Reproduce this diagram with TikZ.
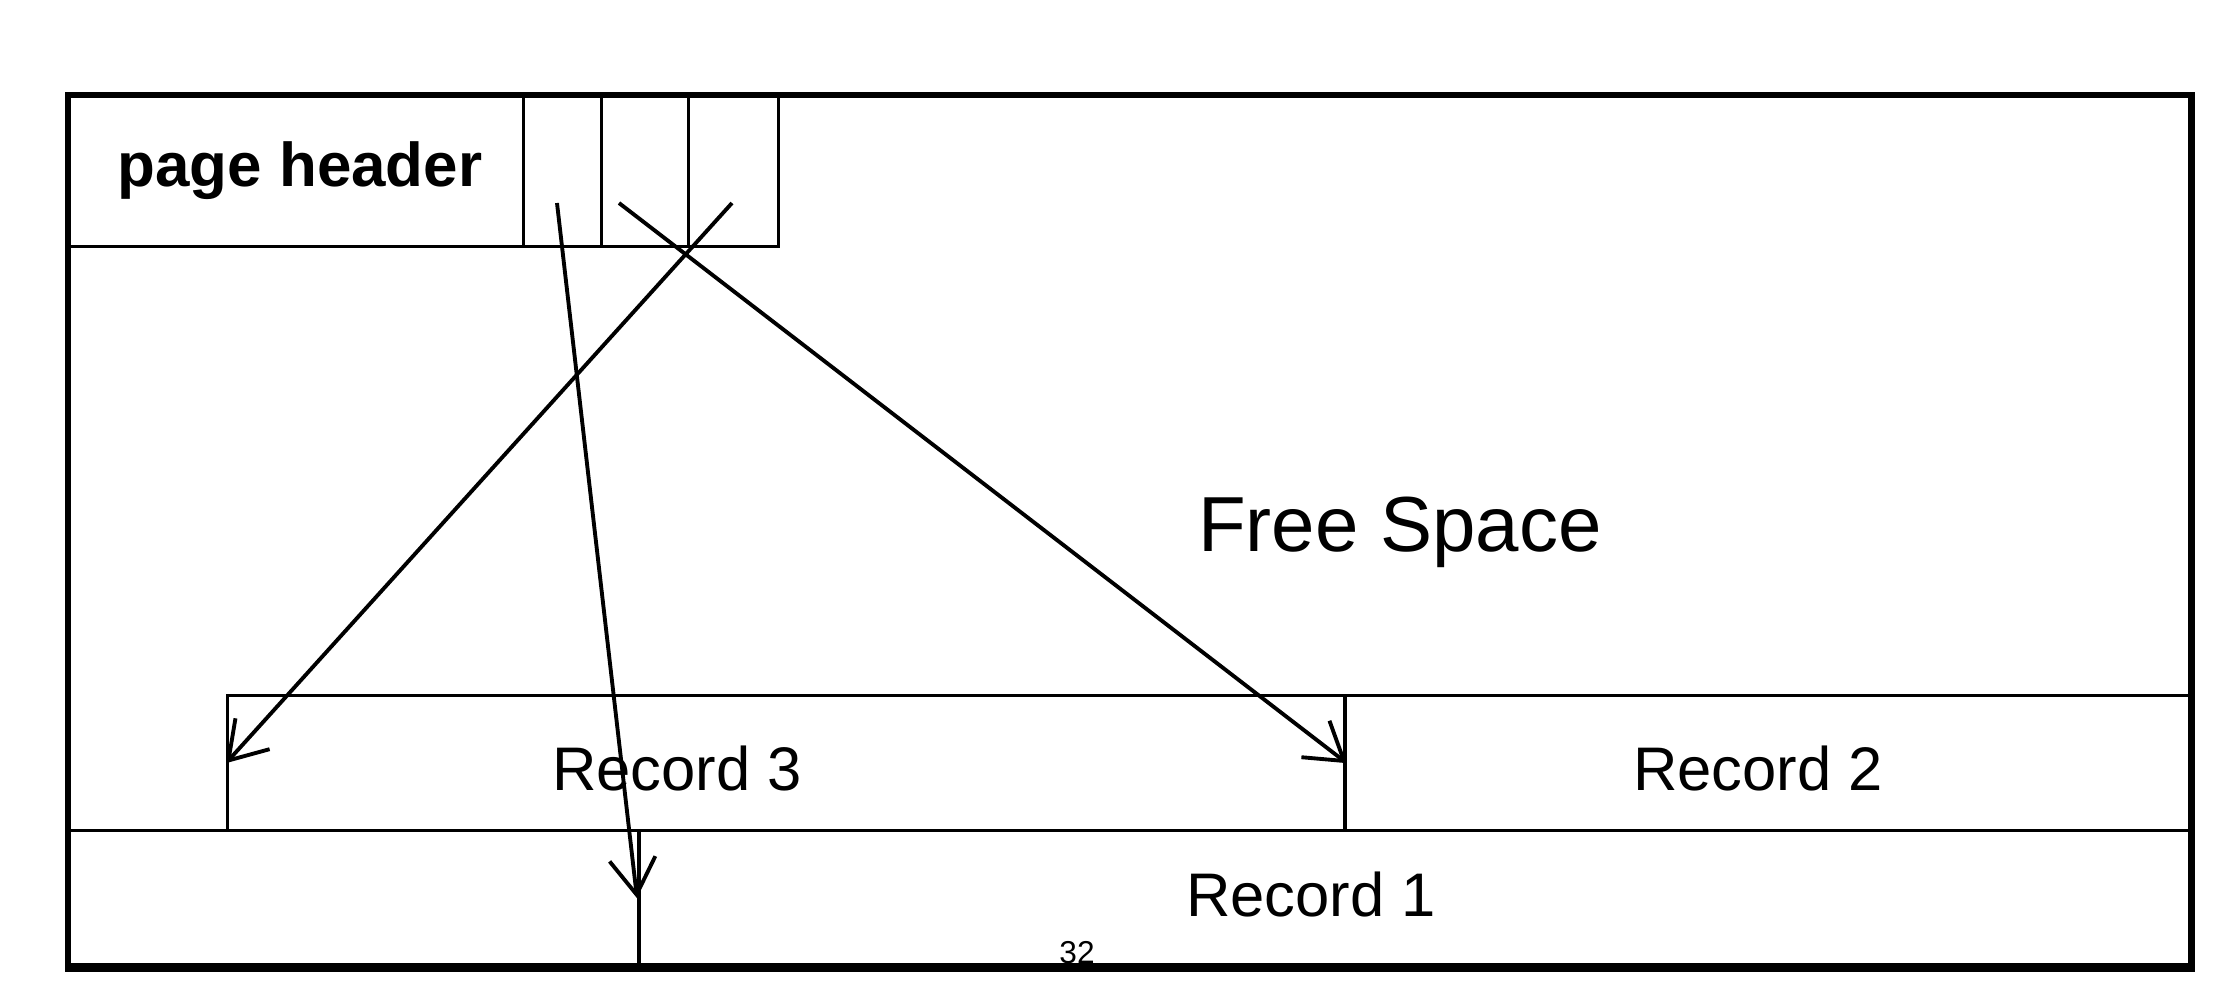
\documentclass[tikz,border=0pt]{standalone}
\usepackage{fontspec}
\setmainfont{Liberation Sans}
\usetikzlibrary{arrows.meta}
\begin{document}
\begin{tikzpicture}[x=0.01cm,y=-0.01cm,
  box/.style={draw, line width=0.9pt, rectangle, inner sep=0pt, anchor=north west},
  txt/.style={inner sep=0pt, font=\fontsize{17.5}{20}\selectfont},
  ptr/.style={line width=1.1pt, -{Straight Barb[length=3.6mm,width=4.6mm,line width=1.1pt]}}]
\useasboundingbox (0,0) rectangle (2230,999);
% outer page
\node[box, line width=1.8pt, minimum width=21.22cm, minimum height=8.70cm] (page) at (65,92) {};
% header
\node[box, minimum width=4.57cm, minimum height=1.53cm] (hdr) at (65,92) {};
\node[inner sep=0pt, font=\bfseries\fontsize{17.6}{20}\selectfont] (hdrtxt) at (300,171) {page header};
\node[box, minimum width=0.78cm, minimum height=1.53cm] (c1) at (522,92) {};
\node[box, minimum width=0.87cm, minimum height=1.53cm] (c2) at (600,92) {};
\node[box, minimum width=0.90cm, minimum height=1.53cm] (c3) at (687,92) {};
% records
\node[box, minimum width=11.17cm, minimum height=1.35cm] (rec3) at (226,694) {};
\node[box, minimum width=8.44cm, minimum height=1.35cm] (rec2) at (1343,694) {};
\node[box, minimum width=5.72cm, minimum height=1.35cm] (rec1a) at (65,829) {};
\node[box, minimum width=15.50cm, minimum height=1.35cm] (rec1) at (637,829) {};
\draw[line width=1.8pt] (page.south west) -- (page.south east);
% texts
\node[txt] (t3) at (677,768) {Record 3};
\node[txt] (t2) at (1758,768) {Record 2};
\node[txt] (t1) at (1311,894) {Record 1};
\node[inner sep=0pt, font=\fontsize{22.2}{26}\selectfont] (free) at (1400,532) {Free Space};
\node[inner sep=0pt, font=\fontsize{9}{10}\selectfont] (pg) at (1077,953) {32};
% pointers
\coordinate (p1) at (557,203);
\coordinate (p2) at (619,203);
\coordinate (p3) at (732,203);
\draw[ptr] (p1) -- (rec1.west);
\draw[ptr] (p2) -- (rec3.east);
\draw[ptr] (p3) -- (rec3.west);
\end{tikzpicture}
\end{document}
